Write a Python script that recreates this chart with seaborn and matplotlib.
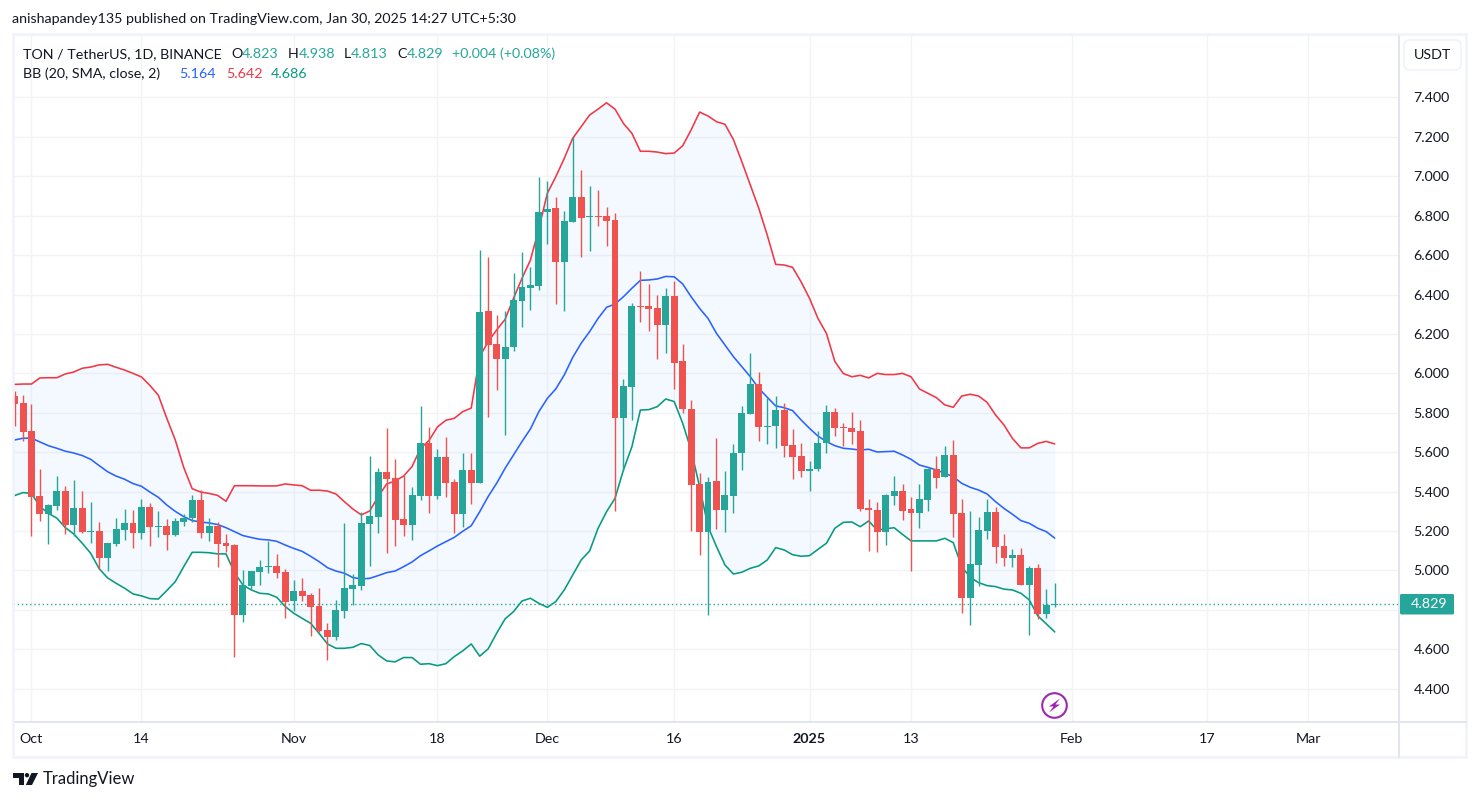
import pandas as pd
import numpy as np
import matplotlib.pyplot as plt
import seaborn as sns
from matplotlib.patches import Rectangle, Circle, Polygon, FancyBboxPatch

# daily candles, 29 Sep 2024 to 30 Jan 2025
opens = [5.885, 5.850, 5.708, 5.378, 5.288, 5.329, 5.403, 5.231, 5.317, 5.195,
         5.200, 5.063, 5.134, 5.205, 5.241, 5.190, 5.322, 5.221, 5.226, 5.180,
         5.246, 5.266, 5.358, 5.190, 5.226, 5.140, 5.129, 4.774, 4.921, 4.992,
         5.018, 5.023, 4.992, 4.845, 4.896, 4.876, 4.820, 4.698, 4.663, 4.795,
         4.906, 4.921, 5.236, 5.271, 5.500, 5.469, 5.261, 5.231, 5.378, 5.647,
         5.378, 5.576, 5.449, 5.287, 5.510, 5.444, 6.317, 6.149, 6.073, 6.134,
         6.367, 6.433, 6.443, 6.819, 6.839, 6.565, 6.768, 6.895, 6.794, 6.799,
         6.799, 6.778, 5.774, 5.931, 6.342, 6.342, 6.332, 6.246, 6.393, 6.063,
         5.819, 5.439, 5.195, 5.454, 5.307, 5.378, 5.596, 5.794, 5.946, 5.728,
         5.733, 5.814, 5.637, 5.581, 5.505, 5.515, 5.647, 5.804, 5.728, 5.723,
         5.708, 5.317, 5.307, 5.195, 5.378, 5.403, 5.312, 5.292, 5.358, 5.515,
         5.474, 5.586, 5.292, 4.860, 5.028, 5.200, 5.297, 5.124, 5.063, 5.079,
         4.926, 5.013, 4.779, 4.823]
highs = [5.911, 5.890, 5.845, 5.515, 5.337, 5.479, 5.429, 5.459, 5.403, 5.348,
         5.246, 5.140, 5.266, 5.312, 5.307, 5.363, 5.342, 5.302, 5.261, 5.266,
         5.287, 5.383, 5.408, 5.266, 5.246, 5.185, 5.134, 5.003, 4.997, 5.053,
         5.151, 5.084, 5.008, 4.952, 4.962, 4.886, 4.911, 4.734, 4.850, 5.241,
         4.982, 5.295, 5.581, 5.520, 5.723, 5.566, 5.485, 5.424, 5.835, 5.728,
         5.616, 5.677, 5.464, 5.596, 5.596, 6.626, 6.591, 6.296, 6.317, 6.510,
         6.616, 6.539, 6.996, 6.976, 6.895, 6.824, 7.199, 7.032, 6.950, 6.930,
         6.844, 6.814, 5.971, 6.357, 6.519, 6.454, 6.398, 6.433, 6.469, 6.149,
         5.865, 5.495, 5.474, 5.672, 5.505, 5.642, 5.835, 6.103, 6.007, 5.875,
         5.885, 5.850, 5.718, 5.647, 5.556, 5.708, 5.840, 5.824, 5.748, 5.804,
         5.764, 5.363, 5.348, 5.388, 5.479, 5.439, 5.373, 5.439, 5.520, 5.581,
         5.632, 5.662, 5.363, 5.302, 5.271, 5.363, 5.322, 5.185, 5.109, 5.114,
         5.023, 5.033, 4.906, 4.938]
lows = [5.733, 5.659, 5.177, 5.251, 5.134, 5.309, 5.185, 5.175, 5.190, 5.140,
        5.008, 4.997, 5.124, 5.155, 5.114, 5.160, 5.124, 5.170, 5.104, 5.175,
        5.226, 5.246, 5.165, 5.150, 5.018, 5.094, 4.561, 4.739, 4.906, 4.926,
        4.987, 4.962, 4.759, 4.795, 4.845, 4.668, 4.688, 4.546, 4.647, 4.759,
        4.825, 4.901, 5.023, 5.190, 5.089, 5.124, 5.175, 5.155, 5.358, 5.292,
        5.363, 5.373, 5.190, 5.221, 5.337, 5.444, 5.779, 5.916, 5.687, 6.114,
        6.235, 6.322, 6.423, 6.657, 6.352, 6.317, 6.768, 6.591, 6.621, 6.748,
        6.646, 5.302, 5.510, 5.764, 6.261, 6.215, 6.073, 6.103, 5.921, 5.800,
        5.200, 5.079, 4.774, 5.211, 5.195, 5.292, 5.510, 5.794, 5.657, 5.642,
        5.622, 5.576, 5.464, 5.474, 5.403, 5.505, 5.596, 5.682, 5.632, 5.642,
        5.302, 5.099, 5.094, 5.129, 5.332, 5.256, 4.997, 5.216, 5.302, 5.419,
        5.474, 5.170, 4.784, 4.724, 4.921, 5.160, 5.038, 5.023, 5.018, 4.926,
        4.673, 4.754, 4.759, 4.813]
closes = [5.846, 5.704, 5.375, 5.288, 5.332, 5.403, 5.231, 5.317, 5.195, 5.200,
          5.063, 5.140, 5.211, 5.241, 5.190, 5.322, 5.221, 5.226, 5.180, 5.251,
          5.266, 5.358, 5.190, 5.226, 5.134, 5.124, 4.774, 4.926, 4.997, 5.018,
          5.023, 4.987, 4.840, 4.896, 4.871, 4.815, 4.693, 4.663, 4.800, 4.911,
          4.926, 5.241, 5.277, 5.500, 5.464, 5.256, 5.231, 5.383, 5.647, 5.378,
          5.576, 5.444, 5.287, 5.510, 5.444, 6.312, 6.144, 6.073, 6.134, 6.372,
          6.438, 6.448, 6.819, 6.834, 6.565, 6.773, 6.895, 6.788, 6.799, 6.794,
          6.773, 5.774, 5.936, 6.342, 6.337, 6.327, 6.246, 6.393, 6.053, 5.819,
          5.434, 5.195, 5.449, 5.307, 5.383, 5.596, 5.799, 5.946, 5.728, 5.733,
          5.814, 5.632, 5.576, 5.505, 5.515, 5.647, 5.804, 5.723, 5.723, 5.703,
          5.312, 5.307, 5.195, 5.383, 5.403, 5.302, 5.292, 5.363, 5.515, 5.469,
          5.586, 5.287, 4.860, 5.033, 5.205, 5.297, 5.119, 5.063, 5.079, 4.926,
          5.013, 4.779, 4.825, 4.829]

# bollinger bands, one day earlier start so the lines reach the left edge
bb_upper = [5.944, 5.944, 5.946, 5.946, 5.977, 5.978, 5.978, 5.997, 6.007, 6.026,
            6.032, 6.043, 6.046, 6.031, 6.017, 6.000, 5.982, 5.939, 5.889, 5.772,
            5.662, 5.523, 5.415, 5.398, 5.391, 5.381, 5.351, 5.430, 5.430, 5.430,
            5.429, 5.429, 5.429, 5.439, 5.434, 5.430, 5.407, 5.407, 5.403, 5.388,
            5.349, 5.312, 5.282, 5.302, 5.375, 5.439, 5.454, 5.479, 5.527, 5.620,
            5.659, 5.728, 5.762, 5.772, 5.806, 5.824, 6.085, 6.161, 6.220, 6.274,
            6.381, 6.482, 6.575, 6.736, 6.914, 6.998, 7.091, 7.193, 7.252, 7.311,
            7.341, 7.373, 7.341, 7.268, 7.218, 7.127, 7.127, 7.123, 7.115, 7.118,
            7.155, 7.235, 7.326, 7.306, 7.277, 7.264, 7.187, 7.074, 6.956, 6.838,
            6.702, 6.553, 6.550, 6.538, 6.465, 6.381, 6.279, 6.203, 6.060, 5.999,
            5.983, 5.990, 5.977, 6.000, 5.994, 5.994, 6.000, 5.983, 5.921, 5.899,
            5.877, 5.840, 5.828, 5.885, 5.894, 5.885, 5.853, 5.789, 5.738, 5.670,
            5.622, 5.622, 5.645, 5.655, 5.642]
bb_mid = [5.660, 5.662, 5.671, 5.671, 5.652, 5.633, 5.620, 5.605, 5.596, 5.583,
          5.564, 5.532, 5.501, 5.479, 5.463, 5.441, 5.427, 5.398, 5.371, 5.332,
          5.300, 5.273, 5.253, 5.246, 5.241, 5.233, 5.217, 5.197, 5.177, 5.167,
          5.158, 5.155, 5.148, 5.129, 5.112, 5.097, 5.072, 5.045, 5.014, 4.997,
          4.986, 4.964, 4.957, 4.960, 4.974, 4.989, 4.997, 5.019, 5.043, 5.075,
          5.099, 5.124, 5.146, 5.168, 5.199, 5.227, 5.298, 5.375, 5.442, 5.518,
          5.586, 5.654, 5.718, 5.806, 5.873, 5.921, 5.992, 6.081, 6.153, 6.212,
          6.279, 6.335, 6.352, 6.389, 6.432, 6.472, 6.474, 6.479, 6.492, 6.490,
          6.454, 6.389, 6.330, 6.279, 6.203, 6.144, 6.085, 6.034, 5.983, 5.924,
          5.879, 5.835, 5.826, 5.811, 5.764, 5.721, 5.682, 5.654, 5.633, 5.620,
          5.616, 5.611, 5.615, 5.601, 5.603, 5.605, 5.586, 5.564, 5.535, 5.523,
          5.510, 5.493, 5.476, 5.442, 5.422, 5.408, 5.388, 5.349, 5.315, 5.285,
          5.253, 5.239, 5.214, 5.197, 5.164]
bb_lower = [5.375, 5.380, 5.395, 5.391, 5.324, 5.290, 5.265, 5.217, 5.185, 5.138,
            5.087, 5.009, 4.962, 4.935, 4.910, 4.881, 4.871, 4.857, 4.855, 4.898,
            4.943, 5.019, 5.092, 5.092, 5.090, 5.084, 5.084, 4.989, 4.926, 4.901,
            4.884, 4.881, 4.864, 4.817, 4.783, 4.757, 4.732, 4.681, 4.627, 4.605,
            4.605, 4.610, 4.629, 4.619, 4.571, 4.541, 4.536, 4.558, 4.558, 4.524,
            4.527, 4.517, 4.527, 4.563, 4.592, 4.627, 4.565, 4.602, 4.681, 4.754,
            4.791, 4.845, 4.859, 4.833, 4.813, 4.842, 4.901, 4.977, 5.053, 5.099,
            5.214, 5.298, 5.366, 5.510, 5.628, 5.814, 5.816, 5.831, 5.870, 5.857,
            5.747, 5.611, 5.425, 5.222, 5.121, 5.028, 4.982, 4.991, 5.011, 5.023,
            5.053, 5.116, 5.104, 5.080, 5.072, 5.075, 5.107, 5.138, 5.214, 5.244,
            5.246, 5.222, 5.251, 5.205, 5.211, 5.217, 5.183, 5.150, 5.150, 5.150,
            5.150, 5.163, 5.141, 5.019, 4.965, 4.938, 4.923, 4.918, 4.905, 4.901,
            4.884, 4.850, 4.769, 4.729, 4.688]

last_price = 4.829
y_ticks = [4.4, 4.6, 4.8, 5.0, 5.2, 5.4, 5.6, 5.8, 6.0, 6.2, 6.4, 6.6, 6.8, 7.0, 7.2, 7.4]
x_ticks = ["2024-10-01", "2024-10-14", "2024-11-01", "2024-11-18", "2024-12-01", "2024-12-16",
           "2025-01-01", "2025-01-13", "2025-02-01", "2025-02-17", "2025-03-01"]
x_labels = ["Oct", "14", "Nov", "18", "Dec", "16", "2025", "13", "Feb", "17", "Mar"]

UP = "#26a69a"
DOWN = "#ef5350"
BLUE = "#2962ff"
RED = "#f23645"
GREEN = "#089981"
INK = "#131722"
W, H = 1479, 801
TXT = 10.3

sns.set_theme(style="whitegrid", rc={"grid.color": "#f2f3f6", "grid.linewidth": 1.0,
                                     "axes.edgecolor": "#e0e3eb"})
plt.rcParams['font.family'] = ['Lato', 'DejaVu Sans']

fig = plt.figure(figsize=(W / 100, H / 100), dpi=100)
ax = fig.add_axes([13 / W, 1 - 722 / H, (1399 - 13) / W, (722 - 35) / H])

band_days = pd.date_range("2024-09-28", periods=len(bb_upper))
bands = pd.DataFrame({"day": band_days, "Upper": bb_upper, "Basis": bb_mid, "Lower": bb_lower})
candles = pd.DataFrame({"day": band_days[1:], "o": opens, "h": highs, "l": lows, "c": closes})
candles["up"] = candles["c"] >= candles["o"]
candles["color"] = np.where(candles["up"], UP, DOWN)

ax.fill_between(bands["day"], bands["Lower"], bands["Upper"], color="#2196f3", alpha=0.05,
                linewidth=0, zorder=1)
long_bands = bands.melt(id_vars="day", var_name="band", value_name="price")
sns.lineplot(data=long_bands, x="day", y="price", hue="band", legend=False, errorbar=None,
             palette={"Upper": RED, "Basis": BLUE, "Lower": GREEN}, linewidth=1.15, ax=ax, zorder=2)

ax.axhline(last_price, color=UP, linestyle=(0, (1, 2)), linewidth=1.0, zorder=2.5)

ax.vlines(candles["day"], candles["l"], candles["h"], colors=candles["color"], linewidth=1.0, zorder=3)
body_low = candles[["o", "c"]].min(axis=1)
body_high = candles[["o", "c"]].max(axis=1)
ax.bar(candles["day"], (body_high - body_low).clip(lower=0.005), bottom=body_low, width=0.82,
       color=candles["color"], linewidth=0, zorder=4)

ax.set_xlim(pd.Timestamp("2024-09-28 19:30"), pd.Timestamp("2025-03-11 17:00"))
ax.set_ylim(4.231, 7.717)
ax.set_xlabel("")
ax.set_ylabel("")
ax.set_axisbelow(True)

ax.yaxis.tick_right()
# the 4.800 label sits under the last price tag in the original
ax.set_yticks(y_ticks, ["" if v == 4.8 else f"{v:.3f}" for v in y_ticks])
ax.set_xticks(pd.to_datetime(x_ticks), x_labels)
ax.tick_params(axis="y", length=0, pad=10.5, labelsize=TXT, labelcolor=INK)
ax.tick_params(axis="x", length=0, pad=8, labelsize=TXT, labelcolor=INK)
for lab in ax.get_xticklabels():
    if lab.get_text() == "2025":
        lab.set_fontweight("bold")
for side in ["top", "left"]:
    ax.spines[side].set_visible(False)
for side in ["right", "bottom"]:
    ax.spines[side].set_visible(True)
    ax.spines[side].set_color("#e0e3eb")
    ax.spines[side].set_linewidth(1.3)


def fx(x):
    return x / W


def fy(y):
    return 1 - y / H


def label(x, y, s, color=INK, size=TXT, **kw):
    fig.text(fx(x), fy(y), s, color=color, fontsize=size, va="center", **kw)


# outer frame, price axis divider and time axis line
fig.add_artist(Rectangle((fx(12.5), fy(757)), (1466 - 12.5) / W, (757 - 34) / H, transform=fig.transFigure,
                         fill=False, edgecolor="#f0f3fa", linewidth=1.8))
fig.add_artist(plt.Line2D([fx(1399), fx(1399)], [fy(722), fy(757)], color="#e0e3eb", linewidth=1.3))
fig.add_artist(plt.Line2D([fx(1399), fx(1466)], [fy(722), fy(722)], color="#e0e3eb", linewidth=1.3))

label(12, 19, "anishapandey135 published on TradingView.com, Jan 30, 2025 14:27 UTC+5:30")

label(23, 54, "TON / TetherUS, 1D, BINANCE")
for x, head, val in [(231, "O", "4.823"), (288, "H", "4.938"), (344, "L", "4.813"), (397, "C", "4.829")]:
    t = fig.text(fx(x), fy(54), head, color=INK, fontsize=TXT, va="center")
    w = t.get_window_extent(fig.canvas.get_renderer()).width
    label(x + w, 54, val, color=UP)
label(452, 54, "+0.004 (+0.08%)", color=UP)
label(23, 74, "BB (20, SMA, close, 2)")
label(179, 74, "5.164", color=BLUE)
label(226, 74, "5.642", color=RED)
label(271, 74, "4.686", color=GREEN)

# currency button
fig.add_artist(FancyBboxPatch((fx(1404), fy(70)), 57 / W, 30 / H, transform=fig.transFigure,
                              boxstyle="round,pad=0,rounding_size=0.004", mutation_aspect=1.85,
                              facecolor="white", edgecolor="#f0f3fa", linewidth=1.3))
fig.text(fx(1432.5), fy(55), "USDT", color=INK, fontsize=TXT, ha="center", va="center")

# last price tag
fig.add_artist(FancyBboxPatch((fx(1400), fy(614.5)), 54 / W, 20.5 / H, transform=fig.transFigure,
                              boxstyle="round,pad=0,rounding_size=0.001", mutation_aspect=1.85,
                              facecolor=UP, edgecolor="none"))
fig.text(fx(1429), fy(604.5), "4.829", color="white", fontsize=TXT, ha="center", va="center")

# lightning badge
fig.add_artist(Circle((1054.5, H - 705.5), 12.3, transform=None, fill=False, edgecolor="#9c27b0", linewidth=1.5))
fig.add_artist(Polygon([(fx(1060), fy(698.5)), (fx(1049), fy(706.5)), (fx(1053.5), fy(706.5)), (fx(1049), fy(712.5)),
                        (fx(1060), fy(704.5)), (fx(1055.5), fy(704.5))], transform=fig.transFigure,
                       facecolor="#9c27b0", edgecolor="none"))

# TradingView logo
logo = "#131722"
fig.add_artist(Polygon([(fx(13), fy(773)), (fx(24), fy(773)), (fx(24), fy(785)), (fx(19), fy(785)),
                        (fx(19), fy(777.5)), (fx(13), fy(777.5))], transform=fig.transFigure,
                       facecolor=logo, edgecolor="none"))
fig.add_artist(Circle((27, H - 775.2), 2.2, transform=None, facecolor=logo, edgecolor="none"))
fig.add_artist(Polygon([(fx(31.5), fy(773)), (fx(38), fy(773)), (fx(32), fy(785)), (fx(25.8), fy(785))],
                       transform=fig.transFigure, facecolor=logo, edgecolor="none"))
label(43, 779, "TradingView", size=12)

fig.savefig("out.png", dpi=100, facecolor="white")
